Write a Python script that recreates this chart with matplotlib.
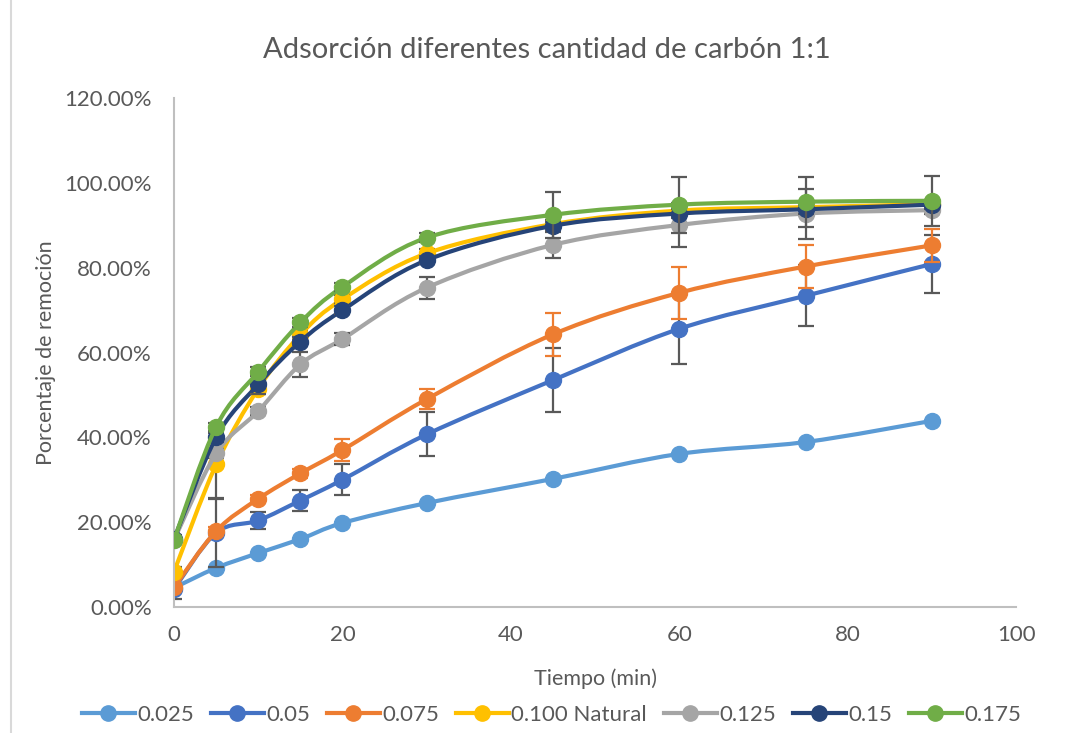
import matplotlib
matplotlib.use("Agg")
import matplotlib.pyplot as plt
from matplotlib.path import Path
from matplotlib.patches import PathPatch
from matplotlib.ticker import FuncFormatter, MultipleLocator
from matplotlib.lines import Line2D

plt.rcParams['font.family'] = ['Lato', 'DejaVu Sans']

# datos (porcentaje de remocion)
tiempo = [0, 5, 10, 15, 20, 30, 45, 60, 75, 90]
labels = ['0.025', '0.05', '0.075', '0.100 Natural', '0.125', '0.15', '0.175']
colors = ['#5B9BD5', '#4472C4', '#ED7D31', '#FFC000', '#A5A5A5', '#264478', '#70AD47']

r_025 = [4.5, 9.2, 12.7, 16.0, 19.8, 24.5, 30.2, 36.1, 38.9, 43.9]
r_05 = [4.2, 17.5, 20.4, 25.1, 30.0, 40.7, 53.5, 65.6, 73.4, 80.9]
r_075 = [4.6, 17.9, 25.5, 31.5, 37.0, 49.0, 64.3, 74.1, 80.3, 85.3]
r_100 = [8.3, 33.6, 51.5, 64.2, 72.6, 83.4, 90.3, 93.5, 94.3, 95.0]
r_125 = [15.8, 36.2, 46.2, 57.2, 63.2, 75.3, 85.4, 90.1, 92.8, 93.6]
r_15 = [16.0, 40.0, 52.5, 62.6, 70.0, 81.8, 89.9, 92.8, 93.8, 94.9]
r_175 = [15.8, 42.5, 55.5, 67.1, 75.5, 87.1, 92.5, 94.9, 95.6, 95.8]

e_025 = [0, 0, 0, 0, 0, 0, 0, 0, 0, 0]
e_05 = [2.3, 8.0, 2.0, 2.4, 3.7, 5.2, 7.6, 8.4, 7.2, 6.9]
e_075 = [0.5, 1.0, 0.8, 1.0, 2.5, 2.4, 5.1, 6.2, 5.0, 3.9]
e_100 = [1.0, 8.0, 1.3, 1.0, 1.0, 1.0, 1.0, 1.0, 1.0, 1.0]
e_125 = [1.0, 1.0, 1.0, 2.9, 1.5, 2.6, 3.0, 5.2, 5.9, 1.0]
e_15 = [1.0, 1.0, 2.3, 1.0, 1.0, 1.0, 1.0, 1.0, 1.0, 1.0]
e_175 = [1.0, 1.0, 1.0, 1.0, 1.0, 1.0, 5.4, 6.6, 5.9, 5.9]

series = [r_025, r_05, r_075, r_100, r_125, r_15, r_175]
errors = [e_025, e_05, e_075, e_100, e_125, e_15, e_175]


def smooth_path(xs, ys):
    # curva suavizada tipo Excel (bezier cubica)
    pts = list(zip(xs, ys))
    n = len(pts)
    verts = [pts[0]]
    codes = [Path.MOVETO]
    for i in range(n - 1):
        p0 = pts[i - 1] if i > 0 else pts[i]
        p1 = pts[i]
        p2 = pts[i + 1]
        p3 = pts[i + 2] if i + 2 < n else pts[i + 1]
        c1 = (p1[0] + (p2[0] - p0[0]) / 6, p1[1] + (p2[1] - p0[1]) / 6)
        c2 = (p2[0] - (p3[0] - p1[0]) / 6, p2[1] - (p3[1] - p1[1]) / 6)
        verts += [c1, c2, p2]
        codes += [Path.CURVE4] * 3
    return Path(verts, codes)


fig = plt.figure(figsize=(10.81, 7.33), dpi=100)
ax = fig.add_axes([0.161, 0.172, 0.779, 0.694])

gray = '#595959'
for k, (vals, err) in enumerate(zip(series, errors)):
    c = colors[k]
    ecol = c if labels[k] == '0.075' else gray
    ax.add_patch(PathPatch(smooth_path(tiempo, vals), fill=False, edgecolor=c,
                           lw=3.0, zorder=2 + k * 0.1, capstyle='round'))
    ax.errorbar(tiempo, vals, yerr=err, fmt='none', ecolor=ecol, elinewidth=1.6,
                capsize=6, capthick=1.6, zorder=2.05 + k * 0.1)
    ax.plot(tiempo, vals, 'o', color=c, markersize=11.5, zorder=2.08 + k * 0.1)

ax.set_xlim(0, 100)
ax.set_ylim(0, 120)
ax.xaxis.set_major_locator(MultipleLocator(20))
ax.yaxis.set_major_locator(MultipleLocator(20))
ax.yaxis.set_major_formatter(FuncFormatter(lambda v, p: f"{v:.2f}%"))

for s in ['top', 'right']:
    ax.spines[s].set_visible(False)
for s in ['left', 'bottom']:
    ax.spines[s].set_color('#BFBFBF')
    ax.spines[s].set_linewidth(1.5)
ax.tick_params(length=0, labelsize=16, labelcolor=gray, pad=16)
ax.tick_params(axis='x', pad=13)

fig.text(0.506, 0.932, 'Adsorción diferentes cantidad de carbón 1:1', fontsize=21,
         color=gray, ha='center', va='center')
ax.set_xlabel('Tiempo (min)', fontsize=15.5, color=gray, labelpad=17)
ax.set_ylabel('Porcentaje de remoción', fontsize=15.5, color=gray, labelpad=6)

handles = [Line2D([0], [0], color=c, lw=3, marker='o', markersize=11) for c in colors]
leg = fig.legend(handles, labels, loc='center', bbox_to_anchor=(0.51, 0.025), ncol=7,
                 frameon=False, fontsize=16, handlelength=2.4, handletextpad=0.1,
                 columnspacing=0.75)
for t in leg.get_texts():
    t.set_color(gray)

fig.add_artist(Line2D([0.0102, 0.0102], [0, 1], color='#D9D9D9', lw=1.5))

fig.savefig('out.png', dpi=100)
